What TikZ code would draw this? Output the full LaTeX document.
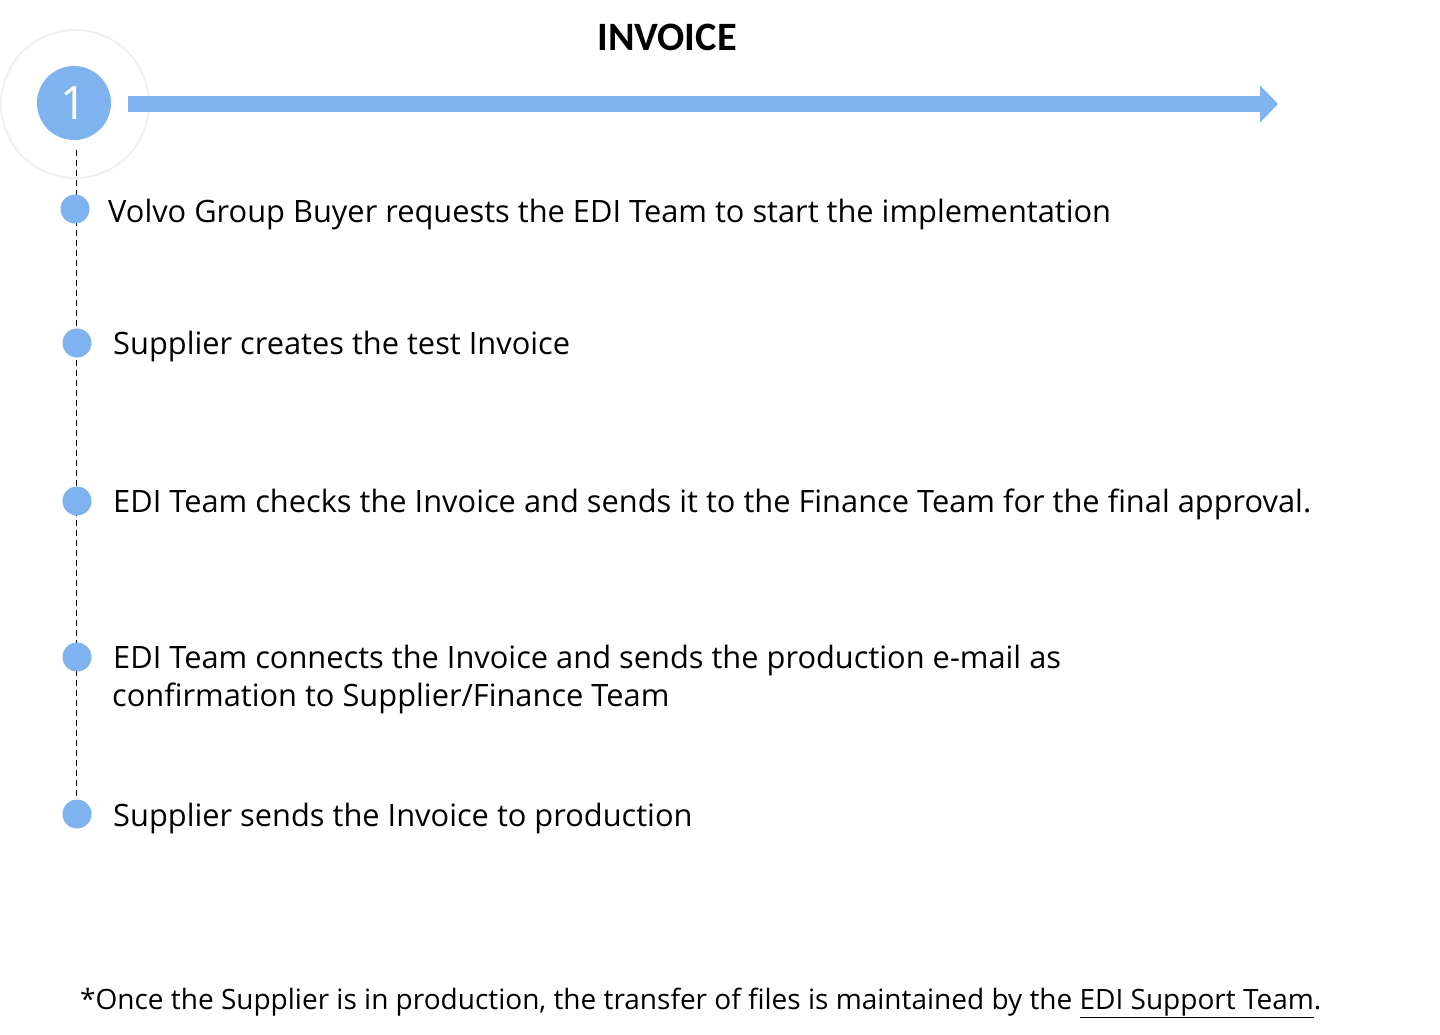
\documentclass[tikz,border=0pt]{standalone}
\usepackage{fontspec}
\setmainfont{Open Sans}
\newfontfamily\titlefont{Carlito}
\usetikzlibrary{arrows.meta}
\definecolor{vblue}{RGB}{126,179,240}
\definecolor{ring}{RGB}{240,240,240}
\begin{document}
\begin{tikzpicture}[x=1pt,y=-1pt,
  dot/.style={circle,fill=vblue,minimum size=29pt,inner sep=0pt},
  stepText/.style={anchor=base west,inner sep=0pt,font=\fontsize{30.8}{38}\selectfont,text=black},
  noteText/.style={anchor=base west,inner sep=0pt,font=\fontsize{28}{32}\selectfont,text=black}]
\useasboundingbox (0,0) rectangle (1440,1034);
\fill[white] (0,0) rectangle (1440,1034);
% title
\node[inner sep=0pt,anchor=base,font=\titlefont\bfseries\fontsize{40.3}{46}\selectfont] (title) at (667,50) {INVOICE};
% rings
\node[circle,draw=ring,line width=2pt,minimum size=148pt,inner sep=0pt] (ringc) at (75,104) {};
\node[circle,fill=vblue,minimum size=74pt,inner sep=0pt,text=white,font=\fontsize{46}{52}\selectfont] (num) at (74,103) {1};
% arrow
\coordinate (arrS) at (128,104);
\coordinate (arrE) at (1278,104);
\draw[vblue,line width=16pt,-{Triangle[length=18pt,width=36pt]}] (arrS) -- (arrE);
% timeline
\coordinate (tlTop) at (76,150);
\coordinate (tlBot) at (76,800);
\draw[black,line width=1pt,dash pattern=on 6pt off 4pt] (tlTop) -- (tlBot);
% dots
\node[dot] (d1) at (75,209) {};
\node[dot] (d2) at (77,343) {};
\node[dot] (d3) at (77,501) {};
\node[dot] (d4) at (77,657) {};
\node[dot] (d5) at (77,814) {};
% texts
\node[stepText] (t1) at (108,222) {Volvo Group Buyer requests the EDI Team to start the implementation};
\node[stepText] (t2) at (113,354) {Supplier creates the test Invoice};
\node[stepText] (t3) at (113,512) {EDI Team checks the Invoice and sends it to the Finance Team for the final approval.};
\node[stepText] (t4a) at (113,668) {EDI Team connects the Invoice and sends the production e-mail as};
\node[stepText] (t4b) at (112,706) {confirmation to Supplier/Finance Team};
\node[stepText] (t5) at (113,826) {Supplier sends the Invoice to production};
\node[noteText] (note) at (80,1009) {*Once the Supplier is in production, the transfer of files is maintained by the \underline{EDI Support Team}.};
\end{tikzpicture}
\end{document}
